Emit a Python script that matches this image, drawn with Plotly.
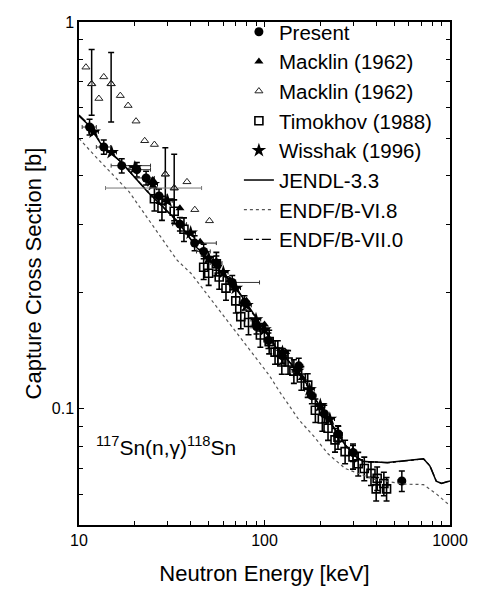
import plotly.graph_objects as go

# ---------------- data ----------------
# Evaluated curves
jendl_e = [10, 11.3, 13.2, 16.9, 23.4, 33.8, 43.1, 67.7, 89.4, 114, 140, 165, 190, 212, 240, 270, 306, 340, 460, 600, 720, 780, 843, 900, 1000]
jendl_s = [0.571, 0.541, 0.482, 0.434, 0.364, 0.306, 0.261, 0.211, 0.173, 0.145, 0.130, 0.118, 0.105, 0.097, 0.088, 0.081, 0.0755, 0.0730, 0.0725, 0.0735, 0.0742, 0.0710, 0.0649, 0.0640, 0.0650]

endf6_e = [10, 12, 18.6, 33.8, 40.1, 60, 80, 106, 120, 153, 186, 220, 272, 391, 564, 720, 850, 1000]
endf6_s = [0.50, 0.454, 0.364, 0.242, 0.224, 0.174, 0.145, 0.122, 0.111, 0.0937, 0.0844, 0.0764, 0.070, 0.0656, 0.0638, 0.0636, 0.060, 0.0561]

endf7_e = [10, 11.3, 13.2, 16.9, 23.4, 33.8, 43.1, 67.7, 89.4, 114, 140, 165, 190, 212, 240, 270, 306, 340, 460, 600, 720, 780, 843, 900, 1000]
endf7_s = [0.575, 0.543, 0.484, 0.433, 0.365, 0.305, 0.262, 0.210, 0.172, 0.146, 0.130, 0.117, 0.105, 0.097, 0.088, 0.081, 0.0756, 0.0731, 0.0724, 0.0734, 0.0741, 0.0712, 0.0650, 0.0641, 0.0651]

# Present measurement (filled circles)
present_e = [11.4, 13.6, 17.0, 20.5, 23.0, 27.0, 35.0, 42.0, 47.0, 55.0, 67.0, 78.0, 90.6, 105.0, 125.0, 153.0, 180.0, 210.0, 250.0, 300.0, 550.0]
present_s = [0.535, 0.475, 0.425, 0.415, 0.395, 0.355, 0.300, 0.268, 0.255, 0.238, 0.212, 0.188, 0.163, 0.150, 0.137, 0.129, 0.108, 0.097, 0.086, 0.077, 0.065]
present_ds = [0.025, 0.02, 0.018, 0.018, 0.016, 0.015, 0.012, 0.012, 0.011, 0.010, 0.009, 0.008, 0.007, 0.007, 0.006, 0.006, 0.005, 0.005, 0.004, 0.004, 0.004]
present_dep = [1.0, 1.2, 7.3, 3.8, 2.5, 2.5, 3.0, 13.0, 4.0, 4.0, 27.0, 5.0, 8.0, 6.0, 8.0, 8.0, 10.0, 10.0, 12.0, 15.0, 25.0]
present_dem = [1.0, 1.2, 2.1, 2.0, 2.5, 2.5, 3.0, 0.5, 4.0, 4.0, 4.0, 5.0, 6.0, 6.0, 8.0, 6.0, 10.0, 10.0, 12.0, 15.0, 25.0]

# Macklin (1962) filled triangles
mack_f_e = [25.0, 35.0, 45.0, 55.0, 65.0, 80.0, 100.0, 130.0, 160.0, 200.0, 250.0]
mack_f_s = [0.390, 0.330, 0.270, 0.240, 0.215, 0.190, 0.165, 0.140, 0.120, 0.100, 0.085]

# Macklin (1962) open triangles
mack_o_e = [10.9, 11.7, 12.8, 13.6, 14.9, 16.7, 18.4, 20.3, 22.6, 25.5, 29.2, 32.6, 38.2, 42.1, 50.5]
mack_o_s = [0.764, 0.692, 0.634, 0.721, 0.692, 0.645, 0.608, 0.554, 0.493, 0.482, 0.404, 0.372, 0.386, 0.327, 0.306]
mack_o_up = [0, 0.157, 0, 0, 0.142, 0, 0, 0, 0, 0, 0.069, 0.083, 0, 0, 0]
mack_o_dn = [0, 0.118, 0, 0, 0.141, 0, 0, 0, 0, 0, 0.061, 0.066, 0, 0, 0]
mack_o_xp = [0, 0, 0, 0, 0, 0, 0, 0, 0, 0, 0, 13.2, 0, 0, 0]
mack_o_xm = [0, 0, 0, 0, 0, 0, 0, 0, 0, 0, 0, 18.7, 0, 0, 0]

# Timokhov (1988) open squares
timo_e = [25.5, 28.0, 32.6, 36.8, 47.0, 50.0, 55.0, 57.0, 62.0, 70.0, 74.5, 82.0, 95.0, 106.0, 114.0, 118.0, 124.0, 134.0, 144.0, 158.0, 171.0, 188.0, 205.0, 220.0, 240.0, 249.0, 272.0, 300.0, 320.0, 345.0, 375.0, 400.0, 405.0, 440.0, 455.0]
timo_s = [0.349, 0.330, 0.324, 0.291, 0.232, 0.224, 0.237, 0.219, 0.205, 0.190, 0.173, 0.167, 0.155, 0.149, 0.140, 0.140, 0.132, 0.132, 0.125, 0.120, 0.115, 0.099, 0.094, 0.089, 0.083, 0.0844, 0.0774, 0.075, 0.072, 0.070, 0.068, 0.062, 0.066, 0.064, 0.062]

# Wisshak (1996) stars
wiss_e = [12.0, 15.0, 20.0, 25.0, 30.0, 40.0, 50.0, 60.0, 70.0, 80.0, 90.0, 100.0, 125.0, 150.0, 175.0, 200.0, 225.0]
wiss_s = [0.520, 0.460, 0.420, 0.380, 0.345, 0.285, 0.245, 0.225, 0.205, 0.185, 0.170, 0.160, 0.140, 0.125, 0.112, 0.102, 0.094]

x_major = [10, 100, 1000]
x_major_text = ["10", "100", "1000"]
x_minor = [20, 30, 40, 50, 60, 70, 80, 90, 200, 300, 400, 500, 600, 700, 800, 900]
y_major = [0.1, 1]
y_major_text = ["0.1", "1"]
y_minor = [0.05, 0.06, 0.07, 0.08, 0.09, 0.2, 0.3, 0.4, 0.5, 0.6, 0.7, 0.8, 0.9]

# ---------------- figure ----------------
FONT = "Liberation Sans, Arial, Helvetica, sans-serif"
fig = go.Figure()

fig.add_trace(go.Scatter(
    x=present_e, y=present_s, mode="markers", name="Present",
    marker=dict(symbol="circle", size=9, color="black"),
    error_y=dict(type="data", array=present_ds, color="black", thickness=1.5, width=3),
    error_x=dict(type="data", array=present_dep, arrayminus=present_dem, color="#333", thickness=1, width=2)))

fig.add_trace(go.Scatter(
    x=mack_f_e, y=mack_f_s, mode="markers", name="Macklin (1962)",
    marker=dict(symbol="triangle-up", size=8, color="black")))

fig.add_trace(go.Scatter(
    x=mack_o_e, y=mack_o_s, mode="markers", name="Macklin (1962)",
    marker=dict(symbol="triangle-up-open", size=7, color="#222", line=dict(width=1))))

fig.add_trace(go.Scatter(
    x=timo_e, y=timo_s, mode="markers", name="Timokhov (1988)",
    marker=dict(symbol="square-open", size=8, color="black", line=dict(width=1.6)),
    error_y=dict(type="percent", value=7, color="black", thickness=1.6, width=3)))

fig.add_trace(go.Scatter(
    x=wiss_e, y=wiss_s, mode="markers", name="Wisshak (1996)",
    marker=dict(symbol="star", size=11, color="black"),
    error_x=dict(type="percent", value=6, color="black", thickness=1, width=2)))

fig.add_trace(go.Scatter(
    x=jendl_e, y=jendl_s, mode="lines", name="JENDL-3.3",
    line=dict(color="black", width=1.5, dash="solid")))

fig.add_trace(go.Scatter(
    x=endf6_e, y=endf6_s, mode="lines", name="ENDF/B-VI.8",
    line=dict(color="#555", width=1.2, dash="dot")))

fig.add_trace(go.Scatter(
    x=endf7_e, y=endf7_s, mode="lines", name="ENDF/B-VII.0",
    line=dict(color="black", width=1.3, dash="dashdot")))

# error bars of open-triangle points (kept out of legend)
err_idx = [i for i, v in enumerate(mack_o_up) if v > 0 or mack_o_xp[i] > 0]
fig.add_trace(go.Scatter(
    x=[mack_o_e[i] for i in err_idx], y=[mack_o_s[i] for i in err_idx], mode="markers",
    marker=dict(symbol="triangle-up-open", size=7, color="#222", line=dict(width=1)),
    error_y=dict(type="data", array=[mack_o_up[i] for i in err_idx],
                 arrayminus=[mack_o_dn[i] for i in err_idx], color="black", thickness=1.5, width=3),
    error_x=dict(type="data", array=[mack_o_xp[i] for i in err_idx],
                 arrayminus=[mack_o_xm[i] for i in err_idx], color="#777", thickness=1, width=2),
    showlegend=False, hoverinfo="skip"))

axis_common = dict(showline=True, linecolor="black", linewidth=1.5, mirror="allticks",
                   ticks="inside", ticklen=5, tickcolor="black", tickwidth=1,
                   showgrid=False, zeroline=False,
                   tickfont=dict(family=FONT, size=16, color="black"))

fig.update_xaxes(type="log", range=[1, 3],
                 tickmode="array", tickvals=x_major, ticktext=x_major_text,
                 minor=dict(tickmode="array", tickvals=x_minor, ticks="inside", ticklen=4,
                            tickcolor="black", showgrid=False),
                 title=dict(text="Neutron Energy [keV]", font=dict(family=FONT, size=22, color="black"), standoff=18),
                 **axis_common)
fig.update_yaxes(type="log", range=[-1.30103, 0],
                 tickmode="array", tickvals=y_major, ticktext=y_major_text,
                 minor=dict(tickmode="array", tickvals=y_minor, ticks="inside", ticklen=4,
                            tickcolor="black", showgrid=False),
                 title=dict(text="Capture Cross Section [b]", font=dict(family=FONT, size=22, color="black"), standoff=4),
                 **axis_common)

fig.add_annotation(x=0.04, y=0.158, xref="paper", yref="paper", xanchor="left", yanchor="middle",
                   text="<sup>117</sup>Sn(n,γ)<sup>118</sup>Sn", showarrow=False,
                   font=dict(family=FONT, size=21, color="black"))

fig.update_layout(
    width=480, height=594,
    margin=dict(l=79, r=21, t=17, b=66),
    paper_bgcolor="white", plot_bgcolor="white",
    showlegend=True,
    legend=dict(x=0.431, y=1.02, xanchor="left", yanchor="top",
                bgcolor="rgba(0,0,0,0)", borderwidth=0,
                font=dict(family=FONT, size=20.5, color="black"),
                tracegroupgap=0, itemwidth=30),
)

fig.write_html("out.html")
